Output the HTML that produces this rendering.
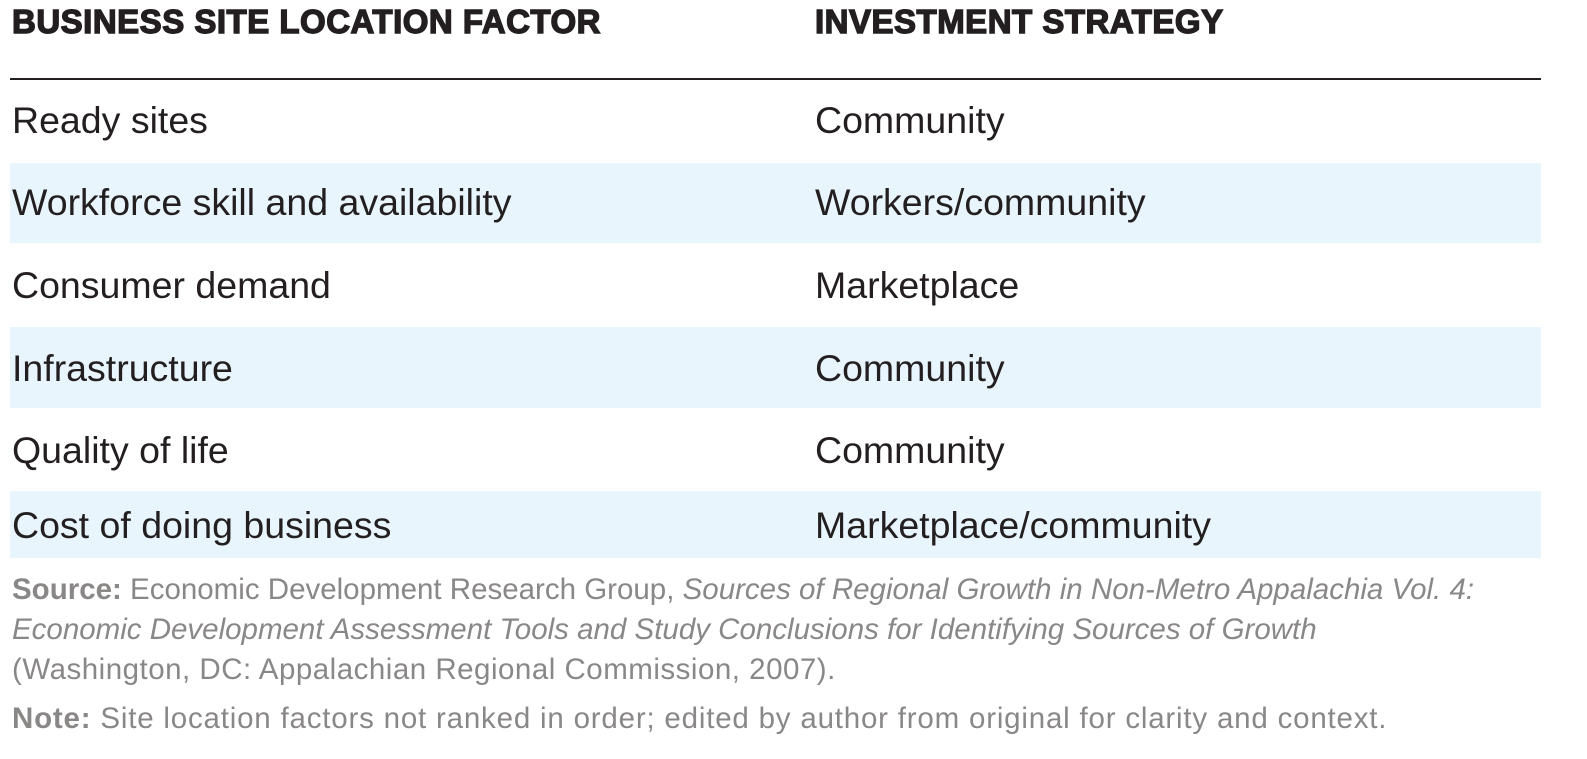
<!DOCTYPE html>
<html><head><meta charset="utf-8"><style>
body{margin:0;width:1587px;height:759px;background:#fff;position:relative;overflow:hidden;font-family:"Liberation Sans",sans-serif;color:#231f20}
.a{position:absolute;white-space:nowrap}
.h{font-weight:bold;font-size:33px;top:3px;-webkit-text-stroke:1.4px #231f20;letter-spacing:0.5px}
.band{position:absolute;left:10px;width:1531px;background:#e8f5fd}
.r{font-size:37.5px}
.s{font-size:29.5px;color:#8a8787}
</style></head><body>
<div class="a h" style="left:12px">BUSINESS SITE LOCATION FACTOR</div>
<div class="a h" style="left:815px">INVESTMENT STRATEGY</div>
<div style="position:absolute;left:10px;top:78px;width:1531px;height:1.5px;background:#231f20"></div>
<div class="band" style="top:163px;height:80px"></div>
<div class="band" style="top:327px;height:81px"></div>
<div class="band" style="top:491px;height:67px"></div>
<div class="a r" style="left:12px;top:99px">Ready sites</div>
<div class="a r" style="left:815px;top:99px">Community</div>
<div class="a r" style="left:12px;top:181px">Workforce skill and availability</div>
<div class="a r" style="left:815px;top:181px">Workers/community</div>
<div class="a r" style="left:12px;top:264px">Consumer demand</div>
<div class="a r" style="left:815px;top:264px">Marketplace</div>
<div class="a r" style="left:12px;top:347px">Infrastructure</div>
<div class="a r" style="left:815px;top:347px">Community</div>
<div class="a r" style="left:12px;top:429px">Quality of life</div>
<div class="a r" style="left:815px;top:429px">Community</div>
<div class="a r" style="left:12px;top:504px">Cost of doing business</div>
<div class="a r" style="left:815px;top:504px">Marketplace/community</div>
<div class="a s" style="left:12px;top:573px"><b>Source:</b> Economic Development Research Group, <i>Sources of Regional Growth in Non-Metro Appalachia Vol. 4:</i></div>
<div class="a s" style="left:12px;top:613px"><i>Economic Development Assessment Tools and Study Conclusions for Identifying Sources of Growth</i></div>
<div class="a s" style="left:12px;top:653px;letter-spacing:0.5px">(Washington, DC: Appalachian Regional Commission, 2007).</div>
<div class="a s" style="left:12px;top:702px;letter-spacing:0.8px"><b>Note:</b> Site location factors not ranked in order; edited by author from original for clarity and context.</div>
</body></html>
